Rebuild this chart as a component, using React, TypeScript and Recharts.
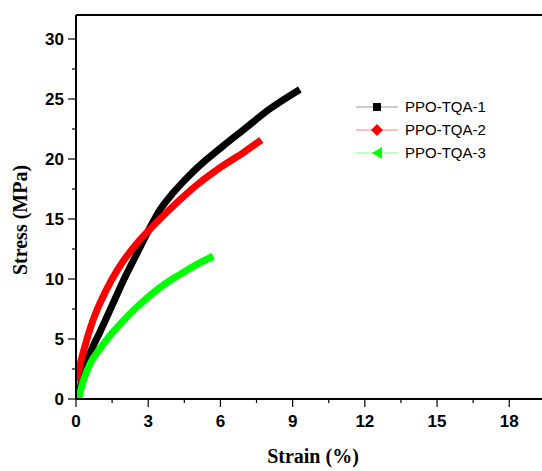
import React from 'react';
import { LineChart, Line, XAxis, YAxis, ReferenceLine } from 'recharts';

// Strain (%) / stress (MPa)
const strain1 = [0.1, 0.3, 0.6, 1, 1.5, 2, 2.5, 3, 3.5, 4, 4.5, 5, 6, 7, 8, 9.3];
const stress1 = [0, 2.2, 3.9, 5.6, 7.8, 10, 12, 14, 15.8, 17.1, 18.2, 19.2, 20.9, 22.5, 24.1, 25.8];

const strain2 = [0, 0.25, 0.5, 0.75, 1, 1.5, 2, 2.5, 3, 4, 5, 6, 7, 7.7];
const stress2 = [1.5, 3.5, 5.3, 6.8, 8, 10, 11.6, 12.9, 14, 16, 17.8, 19.3, 20.6, 21.6];

const strain3 = [0.1, 0.3, 0.6, 1, 1.5, 2, 2.5, 3, 3.5, 4, 4.5, 5, 5.7];
const stress3 = [0, 1.5, 3, 4.2, 5.5, 6.6, 7.6, 8.5, 9.3, 10, 10.6, 11.2, 11.9];

const seriesNames = ['PPO-TQA-1', 'PPO-TQA-2', 'PPO-TQA-3'];
const seriesColors = ['#000000', '#ff0000', '#00ff00'];

const xTicks = [0, 1.5, 3, 4.5, 6, 7.5, 9, 10.5, 12, 13.5, 15, 16.5, 18];
const yTicks = [0, 2.5, 5, 7.5, 10, 12.5, 15, 17.5, 20, 22.5, 25, 27.5, 30];

const toPoints = (xs: number[], ys: number[]) => xs.map((x, i) => ({ x, y: ys[i] }));
const series = [
  toPoints(strain1, stress1),
  toPoints(strain2, stress2),
  toPoints(strain3, stress3),
];

const AXIS_X = 76;
const AXIS_Y = 399;
const tickFont = { fontFamily: 'Liberation Sans, Arial', fontWeight: 700, fontSize: 17 };
const titleFont = { fontFamily: 'Liberation Serif, Times New Roman', fontWeight: 700, fontSize: 20, fill: '#000' };

const YTick = ({ y, payload }: any) => {
  const major = payload.value % 5 === 0;
  return (
    <g>
      <line x1={AXIS_X - (major ? 8 : 4)} x2={AXIS_X} y1={y} y2={y} stroke="#000" strokeWidth={1.2} />
      {major && (
        <text x={AXIS_X - 12} y={y} dy={6} textAnchor="end" fill="#000" style={tickFont}>
          {payload.value}
        </text>
      )}
    </g>
  );
};

const XTick = ({ x, payload }: any) => {
  const major = payload.value % 3 === 0;
  return (
    <g>
      <line x1={x} x2={x} y1={AXIS_Y} y2={AXIS_Y + (major ? 8 : 4)} stroke="#000" strokeWidth={1.2} />
      {major && (
        <text x={x} y={AXIS_Y + 28} textAnchor="middle" fill="#000" style={tickFont}>
          {payload.value}
        </text>
      )}
    </g>
  );
};

const Marker = ({ i }: { i: number }) => {
  if (i === 0) return <rect x={17} y={4} width={8} height={8} fill="#000" />;
  if (i === 1) return <polygon points="21,2 27,8 21,14 15,8" fill="#ff0000" />;
  return <polygon points="16,8 26,2 26,14" fill="#00ff00" />;
};

const ChartLegend = () => (
  <div
    style={{
      position: 'absolute',
      left: 356,
      top: 95,
      fontFamily: 'Liberation Sans, Arial',
      fontSize: 15,
      color: '#000',
    }}
  >
    {seriesNames.map((name, i) => (
      <div key={name} style={{ display: 'flex', alignItems: 'center', height: 23 }}>
        <svg width={44} height={16}>
          <line x1={0} x2={42} y1={8} y2={8} stroke={seriesColors[i]} strokeOpacity={i === 0 ? 0.4 : 0.5} strokeWidth={1} />
          <Marker i={i} />
        </svg>
        <span style={{ marginLeft: 5 }}>{name}</span>
      </div>
    ))}
  </div>
);

export default function App() {
  return (
    <div style={{ position: 'absolute', left: 0, top: 0, width: 542, height: 471, background: '#fff' }}>
      <LineChart width={542} height={471} margin={{ top: 15, right: 0, bottom: 0, left: 0 }}>
        <XAxis
          type="number"
          dataKey="x"
          domain={[0, 19.36]}
          ticks={xTicks}
          interval={0}
          allowDataOverflow
          height={72}
          tickLine={false}
          tick={<XTick />}
          axisLine={{ stroke: '#000', strokeWidth: 2 }}
          label={{
            content: () => (
              <text x={313} y={463} textAnchor="middle" style={titleFont}>
                Strain (%)
              </text>
            ),
          }}
        />
        <YAxis
          type="number"
          dataKey="y"
          domain={[0, 32]}
          ticks={yTicks}
          interval={0}
          allowDataOverflow
          width={76}
          tickLine={false}
          tick={<YTick />}
          axisLine={{ stroke: '#000', strokeWidth: 2 }}
          label={{
            content: () => (
              <text
                x={22}
                y={220}
                transform="rotate(-90 22 220)"
                textAnchor="middle"
                dominantBaseline="middle"
                style={titleFont}
              >
                Stress (MPa)
              </text>
            ),
          }}
        />
        <ReferenceLine y={32} stroke="#000" strokeWidth={2} />
        {series.map((d, i) => (
          <Line
            key={seriesNames[i]}
            data={d}
            dataKey="y"
            name={seriesNames[i]}
            type="monotone"
            stroke={seriesColors[i]}
            strokeWidth={7}
            dot={false}
            isAnimationActive={false}
          />
        ))}
      </LineChart>
      <ChartLegend />
    </div>
  );
}
